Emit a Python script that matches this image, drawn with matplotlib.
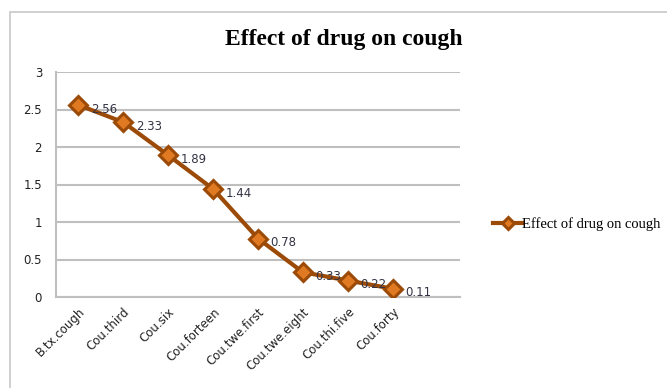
import matplotlib.pyplot as plt
import matplotlib.patches as patches

# data
categories = ['B.tx.cough', 'Cou.third', 'Cou.six', 'Cou.forteen',
              'Cou.twe.first', 'Cou.twe.eight', 'Cou.thi.five', 'Cou.forty']
values = [2.56, 2.33, 1.89, 1.44, 0.78, 0.33, 0.22, 0.11]
yticks = [0, 0.5, 1, 1.5, 2, 2.5, 3]
ytick_labels = ['0', '0.5', '1', '1.5', '2', '2.5', '3']
series_name = 'Effect of drug on cough'

line_col = '#9C4A08'
face_col = '#E07A22'

fig = plt.figure(figsize=(6.67, 3.88), dpi=100)

# outer chart frame
fig.patches.append(patches.Rectangle((10 / 667, -0.02), 1.0, 1 - 12 / 388 + 0.02,
                                     transform=fig.transFigure, fill=False,
                                     edgecolor='#c8c8c8', linewidth=1.2))

ax = fig.add_axes([56 / 667, 1 - 297 / 388, (460 - 56) / 667, (297 - 72) / 388])

x = list(range(len(categories)))
line, = ax.plot(x, values, color=line_col, linewidth=3, marker='D',
                markersize=9, markerfacecolor=face_col, markeredgecolor=line_col,
                markeredgewidth=2.2, label=series_name, zorder=3)

for xi, v in zip(x, values):
    ax.annotate(f'{v:g}', (xi, v), xytext=(9, -3), textcoords='offset points',
                fontsize=8.5, color='#333344', ha='left', va='center')

ax.set_ylim(0, 3)
ax.set_xlim(-0.5, 8.5)
ax.set_yticks(yticks)
ax.set_yticklabels(ytick_labels, fontsize=8.5)
ax.set_xticks(x)
ax.set_xticklabels(categories, rotation=45, ha='right', rotation_mode='anchor',
                   fontsize=8.5)
ax.tick_params(axis='both', length=0, pad=10, colors='#222222')
ax.tick_params(axis='x', pad=6)
ax.yaxis.grid(True, color='#bfbfbf', linewidth=1.5)
ax.set_axisbelow(True)
for s in ['top', 'right']:
    ax.spines[s].set_visible(False)
ax.spines['left'].set_color('#bfbfbf')
ax.spines['bottom'].set_color('#bfbfbf')
ax.spines['left'].set_linewidth(1.5)
ax.spines['bottom'].set_linewidth(1.5)

fig.text(344 / 667, 1 - 40 / 388, 'Effect of drug on cough', ha='center', va='center',
         fontsize=17, fontweight='bold', family='Liberation Serif')

fig.legend(handles=[line], loc='center left', bbox_to_anchor=(480 / 667, 1 - 224 / 388),
           frameon=False, prop={'family': 'Liberation Serif', 'size': 10.5},
           handlelength=2.0, handletextpad=0.0, markerscale=0.7)

fig.savefig('out.png', dpi=100)
